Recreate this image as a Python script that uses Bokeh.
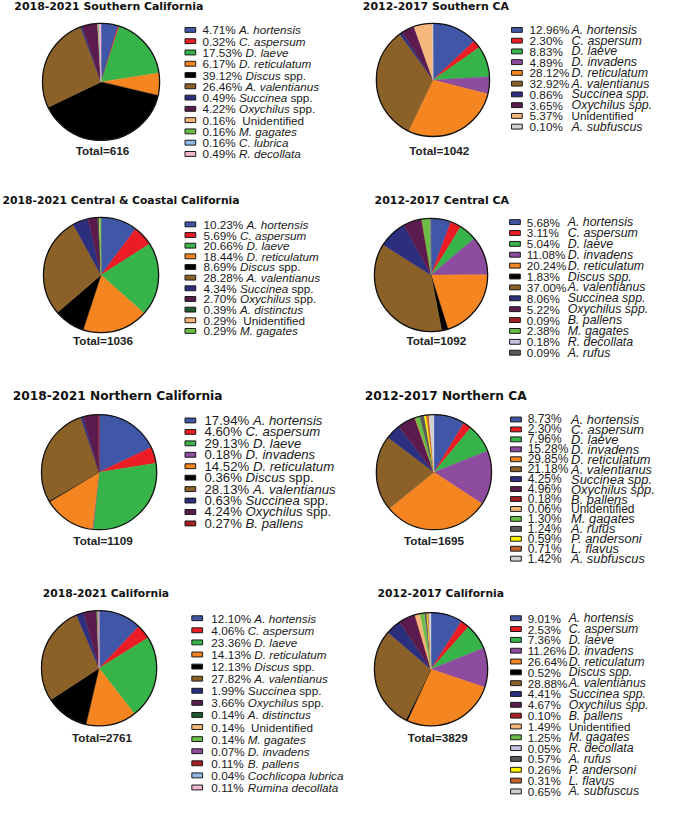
import math
from bokeh.plotting import figure
from bokeh.models import Range1d, ColumnDataSource
from bokeh.core.properties import value
from bokeh.embed import file_html
from bokeh.resources import INLINE

# ---------------- data ----------------
s18_names = ["A. hortensis", "C. aspersum", "D. laeve", "D. reticulatum", "Discus spp.", "A. valentianus",
             "Succinea spp.", "Oxychilus spp.", "Unidentified", "M. gagates", "C. lubrica", "R. decollata"]
s18_pct = [4.71, 0.32, 17.53, 6.17, 39.12, 26.46, 0.49, 4.22, 0.16, 0.16, 0.16, 0.49]

s12_names = ["A. hortensis", "C. aspersum", "D. laeve", "D. invadens", "D. reticulatum", "A. valentianus",
             "Succinea spp.", "Oxychilus spp.", "Unidentified", "A. subfuscus"]
s12_pct = [12.96, 2.30, 8.83, 4.89, 28.12, 32.92, 0.86, 3.65, 5.37, 0.10]

c18_names = ["A. hortensis", "C. aspersum", "D. laeve", "D. reticulatum", "Discus spp.", "A. valentianus",
             "Succinea spp.", "Oxychilus spp.", "A. distinctus", "Unidentified", "M. gagates"]
c18_pct = [10.23, 5.69, 20.66, 18.44, 8.69, 28.28, 4.34, 2.70, 0.39, 0.29, 0.29]

c12_names = ["A. hortensis", "C. aspersum", "D. laeve", "D. invadens", "D. reticulatum", "Discus spp.",
             "A. valentianus", "Succinea spp.", "Oxychilus spp.", "B. pallens", "M. gagates", "R. decollata",
             "A. rufus"]
c12_pct = [5.68, 3.11, 5.04, 11.08, 20.24, 1.83, 37.00, 8.06, 5.22, 0.09, 2.38, 0.18, 0.09]

n18_names = ["A. hortensis", "C. aspersum", "D. laeve", "D. invadens", "D. reticulatum", "Discus spp.",
             "A. valentianus", "Succinea spp.", "Oxychilus spp.", "B. pallens"]
n18_pct = [17.94, 4.60, 29.13, 0.18, 14.52, 0.36, 28.13, 0.63, 4.24, 0.27]

n12_names = ["A. hortensis", "C. aspersum", "D. laeve", "D. invadens", "D. reticulatum", "A. valentianus",
             "Succinea spp.", "Oxychilus spp.", "B. pallens", "Unidentified", "M. gagates", "A. rufus",
             "P. andersoni", "L. flavus", "A. subfuscus"]
n12_pct = [8.73, 2.30, 7.96, 15.28, 29.85, 21.18, 4.25, 4.96, 0.18, 0.06, 1.30, 1.24, 0.59, 0.71, 1.42]

ca18_names = ["A. hortensis", "C. aspersum", "D. laeve", "D. reticulatum", "Discus spp.", "A. valentianus",
              "Succinea spp.", "Oxychilus spp.", "A. distinctus", "Unidentified", "M. gagates", "D. invadens",
              "B. pallens", "Cochlicopa lubrica", "Rumina decollata"]
ca18_pct = [12.10, 4.06, 23.36, 14.13, 12.13, 27.82, 1.99, 3.66, 0.14, 0.14, 0.14, 0.07, 0.11, 0.04, 0.11]

ca12_names = ["A. hortensis", "C. aspersum", "D. laeve", "D. invadens", "D. reticulatum", "Discus spp.",
              "A. valentianus", "Succinea spp.", "Oxychilus spp.", "B. pallens", "Unidentified", "M. gagates",
              "R. decollata", "A. rufus", "P. andersoni", "L. flavus", "A. subfuscus"]
ca12_pct = [9.01, 2.53, 7.36, 11.26, 26.64, 0.52, 28.88, 4.41, 4.67, 0.10, 1.49, 1.25, 0.05, 0.57, 0.26,
            0.31, 0.65]

titles = ["2018-2021 Southern California", "2012-2017 Southern CA",
          "2018-2021 Central & Coastal California", "2012-2017 Central CA",
          "2018-2021 Northern California", "2012-2017 Northern CA",
          "2018-2021 California", "2012-2017 California"]
totals = [616, 1042, 1036, 1092, 1109, 1695, 2761, 3829]

# ---------------- styles ----------------
COLORS = {
    "A. hortensis": "#3F57A6", "C. aspersum": "#EC1C24", "D. laeve": "#36B44A",
    "D. invadens": "#8E4C9E", "D. reticulatum": "#F48521", "Discus spp.": "#000000",
    "A. valentianus": "#8C6128", "Succinea spp.": "#2B2F7D", "Oxychilus spp.": "#5C1B4E",
    "Unidentified": "#F5B77C", "M. gagates": "#6ABD45", "C. lubrica": "#8EB9E5",
    "Cochlicopa lubrica": "#8EB9E5", "R. decollata": "#C5C2E3", "Rumina decollata": "#F2B3CF",
    "A. subfuscus": "#D1D2D4", "B. pallens": "#A51E22", "A. rufus": "#58595B",
    "P. andersoni": "#FFF200", "L. flavus": "#C5622B", "A. distinctus": "#1D5C2E",
}

REF_W, REF_H = 673, 821
W, H = 657, 805
K = W / REF_W  # screen px per reference px

AW = {' ': 278, '%': 889, '.': 278, '-': 333, 'A': 667, 'C': 722, 'D': 722, 'O': 778, 'S': 667,
      'a': 556, 'c': 500, 'e': 556, 'h': 556, 'i': 222, 'l': 222, 'n': 556, 's': 500, 'u': 556,
      'x': 500, 'y': 500}
for d in "0123456789":
    AW[d] = 556


def tw(s, fs):
    return sum(AW.get(ch, 556) for ch in s) * fs / 1000.0


panels = [
    dict(names=s18_names, pct=s18_pct, t=(111, 6), tfs=11.2, c=(103, 83), r=60, tot=(104.5, 153),
         bx=194.5, tx=207, y0=30, dy=11.5, fs=12, nfs=12, mode="join", ov={"R. decollata": "#F2B3CF"}),
    dict(names=s12_names, pct=s12_pct, t=(446, 6), tfs=11.2, c=(443, 81), r=58, tot=(449.5, 153),
         bx=529, tx=542, y0=30, dy=10.96, fs=12, nfs=12.7, mode="col", off=43, ov={}),
    dict(names=c18_names, pct=c18_pct, t=(123.5, 204), tfs=11.05, c=(103, 280), r=59, tot=(105, 347),
         bx=194.5, tx=208, y0=228.3, dy=10.87, fs=12, nfs=12, mode="join", ov={}),
    dict(names=c12_names, pct=c12_pct, t=(452, 204), tfs=11.2, c=(441, 280), r=58, tot=(446.5, 347),
         bx=527, tx=539, y0=226, dy=11.1, fs=12, nfs=12.7, mode="col", off=42, ov={}),
    dict(names=n18_names, pct=n18_pct, t=(120, 403), tfs=12.5, c=(101, 481), r=59, tot=(105, 551),
         bx=194.5, tx=209, y0=428.3, dy=11.67, fs=13.5, nfs=13.5, mode="join", ov={}),
    dict(names=n12_names, pct=n12_pct, t=(456, 403), tfs=12.5, c=(444, 481), r=59, tot=(444, 551),
         bx=528, tx=540, y0=427.3, dy=10.14, fs=12.3, nfs=13.2, mode="col", off=44.5, ov={}),
    dict(names=ca18_names, pct=ca18_pct, t=(108, 605), tfs=11.0, c=(101, 681), r=59, tot=(104, 752),
         bx=201.5, tx=216, y0=630, dy=12.33, fs=12, nfs=12, mode="join", ov={}),
    dict(names=ca12_names, pct=ca12_pct, t=(451, 605), tfs=11.0, c=(441, 682), r=58, tot=(448, 752),
         bx=528, tx=540, y0=630, dy=11.04, fs=12, nfs=12.6, mode="col", off=42, ov={}),
]

p = figure(width=W, height=H, output_backend="svg", toolbar_location=None,
           x_range=Range1d(0, REF_W), y_range=Range1d(0, REF_H), min_border=0,
           x_axis_location=None, y_axis_location=None)
p.grid.visible = False
p.outline_line_color = None
p.background_fill_color = "white"
p.border_fill_color = "white"

FONT = value("Liberation Sans")
TFONT = value("DejaVu Sans")


def Y(ry):
    return REF_H - ry


def px(fs):
    return value(f"{fs * K:.2f}px")


for i, pn in enumerate(panels):
    names, pct = pn["names"], pn["pct"]
    cols = [pn["ov"].get(n, COLORS[n]) for n in names]
    tot = sum(pct)
    starts, ends = [], []
    acc = 0.0
    for v in pct:
        starts.append(math.pi / 2 - 2 * math.pi * acc / tot)
        acc += v
        ends.append(math.pi / 2 - 2 * math.pi * acc / tot)
    cx, cy = pn["c"]
    n = len(pct)
    src = ColumnDataSource(dict(x=[cx] * n, y=[Y(cy)] * n, s=starts, e=ends, c=cols))
    p.wedge(x="x", y="y", radius=pn["r"] * K, radius_units="screen", start_angle="s", end_angle="e",
            direction="clock", fill_color="c", line_color="c", line_width=0.4, source=src)
    p.circle(x=[cx], y=[Y(cy)], radius=pn["r"] * K, radius_units="screen", fill_color=None,
             line_color="#111111", line_width=1.3)

    p.text(x=[pn["t"][0]], y=[Y(pn["t"][1])], text=[titles[i]], text_font=TFONT,
           text_font_style="bold", text_font_size=px(pn["tfs"]), text_align="center",
           text_baseline="middle", text_color="#111111")
    p.text(x=[pn["tot"][0]], y=[Y(pn["tot"][1])], text=[f"Total={totals[i]}"], text_font=FONT,
           text_font_style="bold", text_font_size=px(12), text_align="center",
           text_baseline="middle", text_color="#222222")

    ys = [Y(pn["y0"] + k * pn["dy"]) for k in range(n)]
    p.rect(x=[pn["bx"]] * n, y=ys, width=11 * K, height=5 * K, width_units="screen",
           height_units="screen", fill_color=cols, line_color="#1a1a1a", line_width=1)
    fs, nfs = pn["fs"], pn["nfs"]
    reg = dict(x=[], y=[], t=[])
    regn = dict(x=[], y=[], t=[])
    ita = dict(x=[], y=[], t=[])
    for k, name in enumerate(names):
        ps = f"{pct[k]:.2f}%"
        x0 = pn["tx"]
        reg["x"].append(x0); reg["y"].append(ys[k]); reg["t"].append(ps)
        if pn["mode"] == "join":
            gap = "  " if name == "Unidentified" else " "
            xn = x0 + tw(ps + gap, fs)
        else:
            xn = x0 + pn["off"]
        if name == "Unidentified":
            reg["x"].append(xn); reg["y"].append(ys[k]); reg["t"].append(name)
        elif name.endswith(" spp.") and pn["mode"] == "join":
            base = name[:-5]
            ita["x"].append(xn); ita["y"].append(ys[k]); ita["t"].append(base)
            regn["x"].append(xn + tw(base + " ", nfs)); regn["y"].append(ys[k]); regn["t"].append("spp.")
        else:
            ita["x"].append(xn); ita["y"].append(ys[k]); ita["t"].append(name)
    p.text(x=reg["x"], y=reg["y"], text=reg["t"], text_font=FONT, text_font_style="normal",
           text_font_size=px(fs), text_baseline="middle", text_color="#1a1a1a")
    if regn["x"]:
        p.text(x=regn["x"], y=regn["y"], text=regn["t"], text_font=FONT, text_font_style="normal",
               text_font_size=px(nfs), text_baseline="middle", text_color="#1a1a1a")
    p.text(x=ita["x"], y=ita["y"], text=ita["t"], text_font=FONT, text_font_style="italic",
           text_font_size=px(nfs), text_baseline="middle", text_color="#1a1a1a")

open("out.html", "w").write(file_html(p, INLINE))
